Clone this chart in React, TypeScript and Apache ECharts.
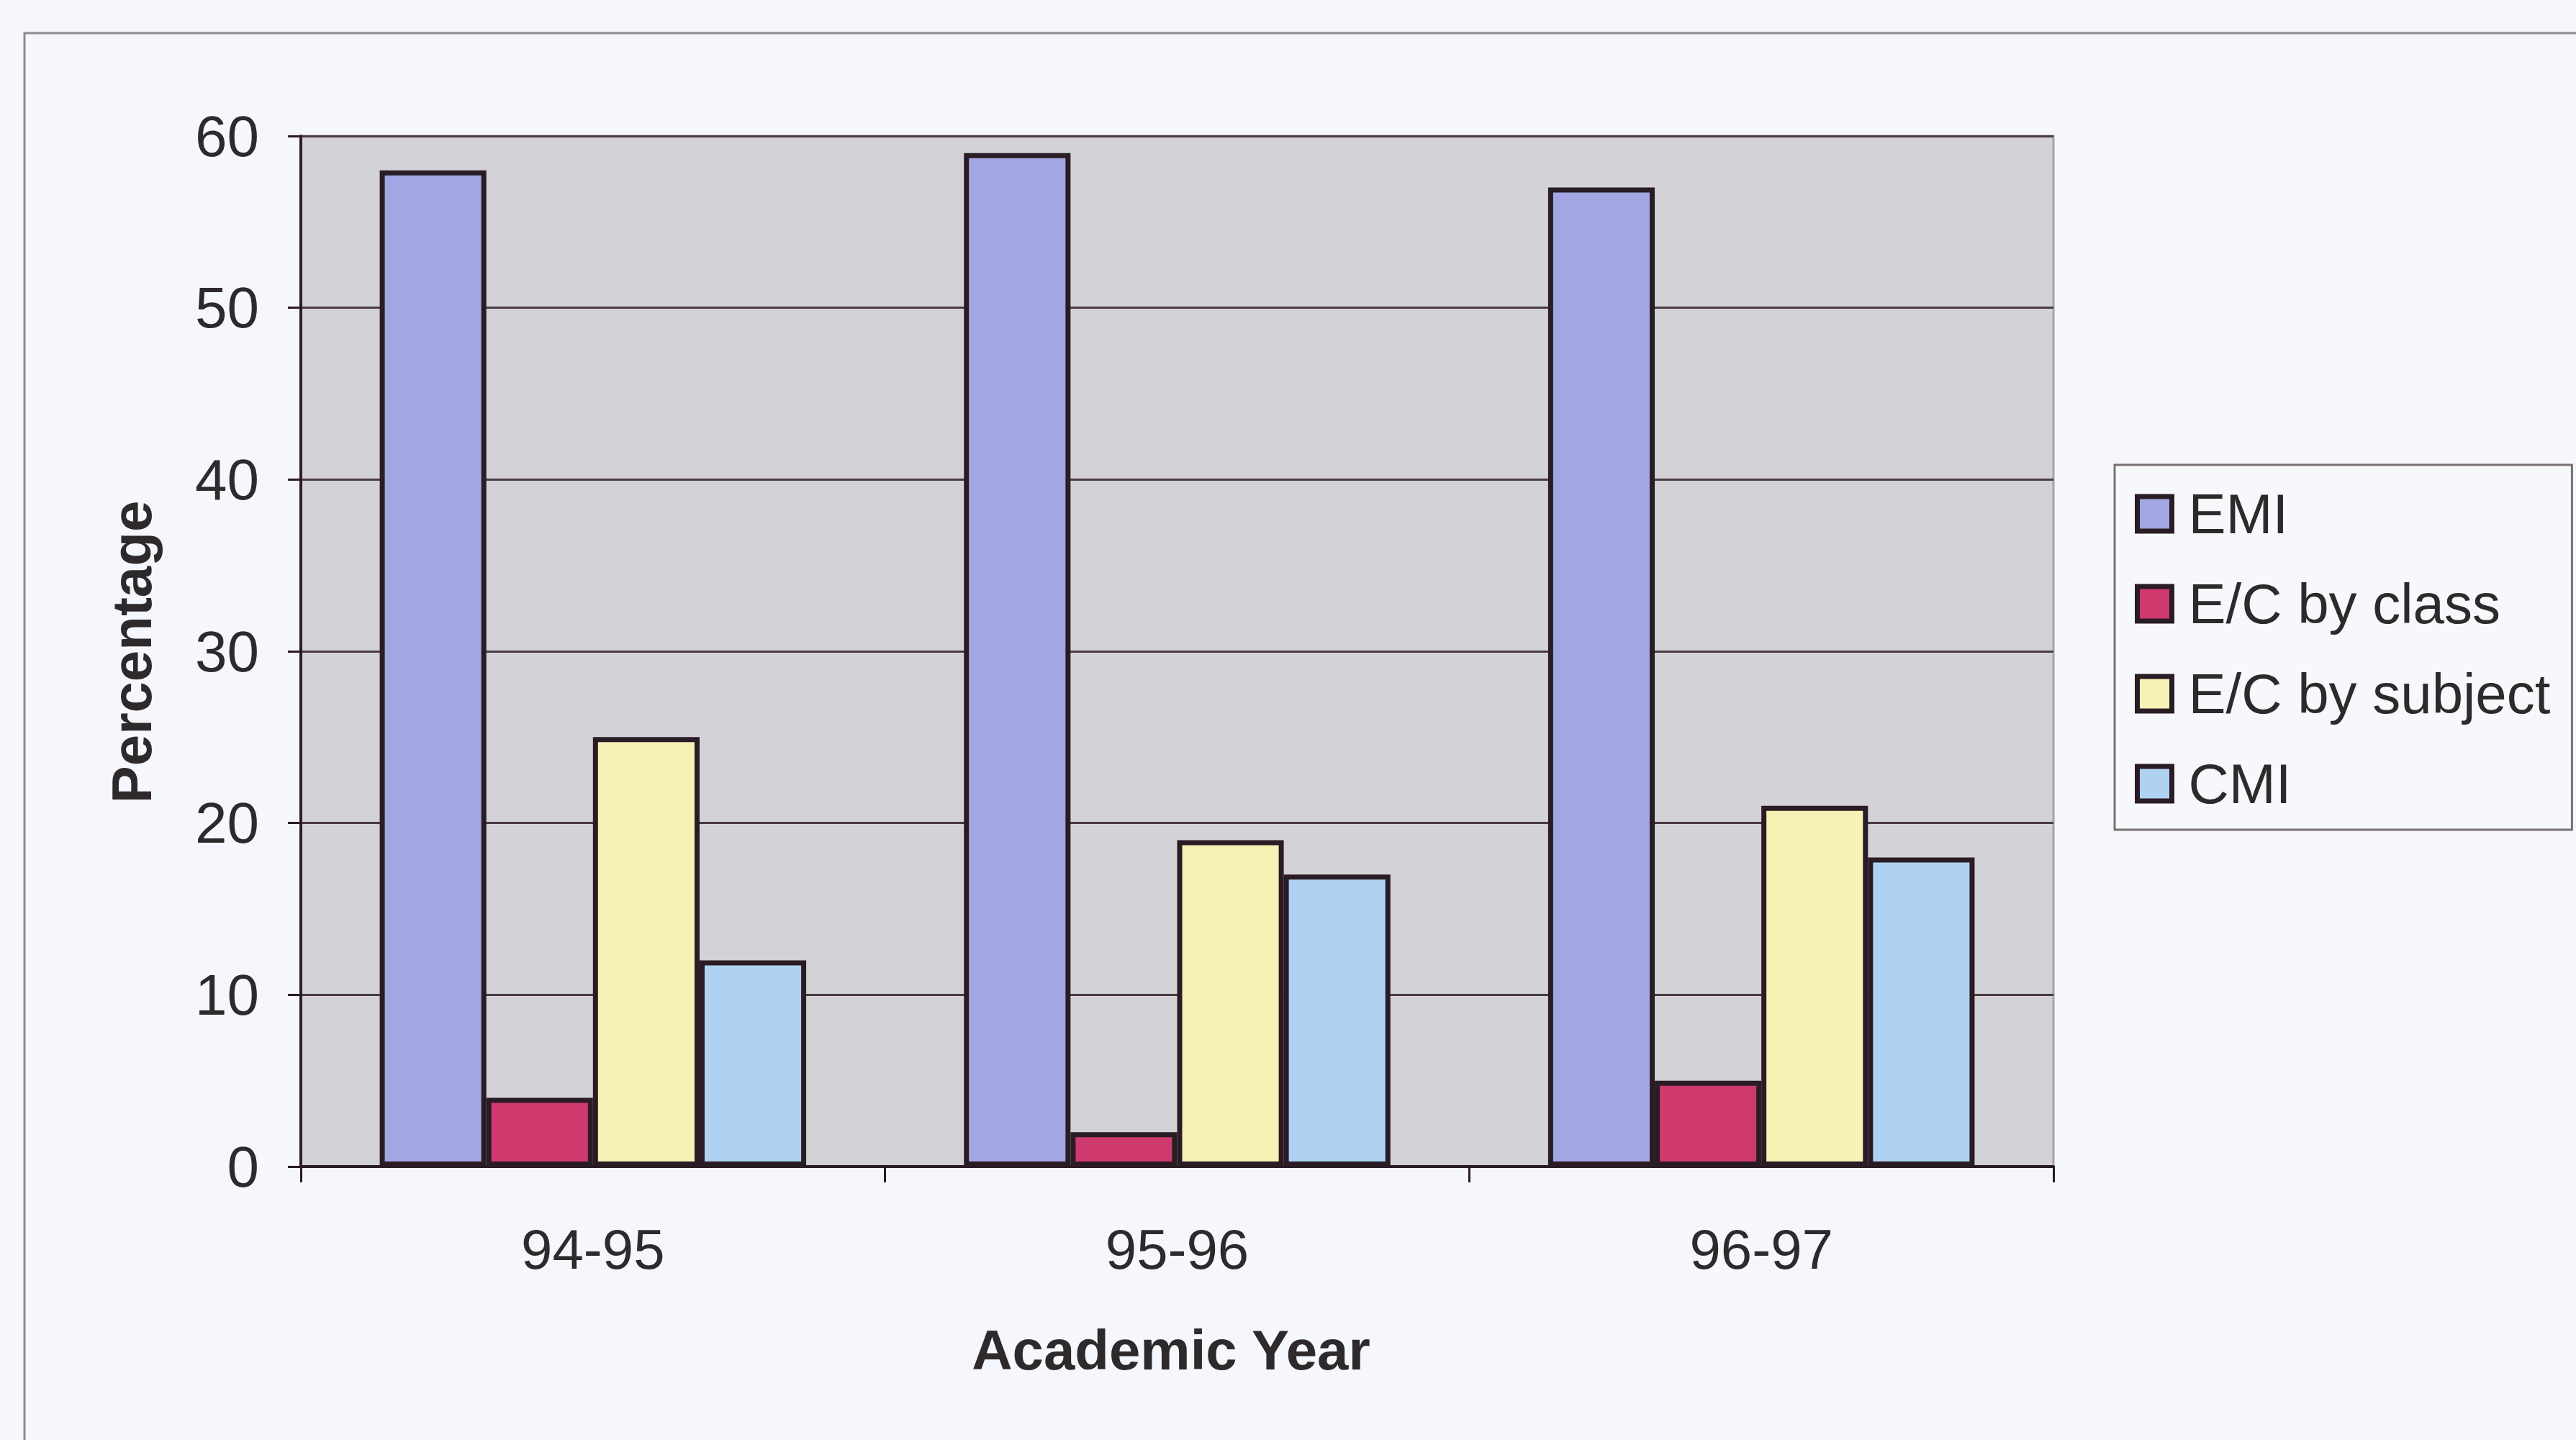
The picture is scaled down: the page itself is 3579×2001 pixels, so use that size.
import React, { useEffect, useRef } from "react";
import * as echarts from "echarts";

const categories = ["94-95", "95-96", "96-97"];
const seriesNames = ["EMI", "E/C by class", "E/C by subject", "CMI"];
const emi = [58, 59, 57];
const ecByClass = [4, 2, 5];
const ecBySubject = [25, 19, 21];
const cmi = [12, 17, 18];
const seriesColors = ["#a2a6e2", "#cf3a6e", "#f6f2b6", "#b0d2f2"];
const yTicks = [0, 10, 20, 30, 40, 50, 60];

const FONT = "'Liberation Sans', Arial, sans-serif";
const DARK = "#2a1c24";

export default function App() {
  const ref = useRef<HTMLDivElement>(null);
  useEffect(() => {
    if (!ref.current) return;
    const chart = echarts.init(ref.current, null, { renderer: "svg" });
    const values = [emi, ecByClass, ecBySubject, cmi];
    chart.setOption({
      animation: false,
      backgroundColor: "#f5f7fc",
      textStyle: { fontFamily: FONT },
      grid: {
        left: 418,
        top: 189,
        width: 2435,
        height: 1432,
        show: true,
        backgroundColor: "#d3d3d7",
        borderColor: "#a4a4a8",
        borderWidth: 3,
      },
      legend: {
        orient: "vertical",
        left: 2938,
        top: 646,
        data: seriesNames,
        icon: "rect",
        itemWidth: 48,
        itemHeight: 48,
        itemGap: 45,
        padding: [28, 30, 24, 28],
        backgroundColor: "#f7f8fc",
        borderColor: "#7a7070",
        borderWidth: 3,
        borderRadius: 0,
        itemStyle: { borderColor: DARK, borderWidth: 7 },
        textStyle: {
          fontFamily: FONT,
          fontSize: 78,
          color: "#2e2a2c",
          lineHeight: 80,
          padding: [0, 0, 0, 18],
        },
      },
      xAxis: {
        type: "category",
        data: categories,
        axisLine: { show: true, lineStyle: { color: DARK, width: 4 } },
        axisTick: { show: true, length: 22, lineStyle: { color: DARK, width: 3 } },
        axisLabel: {
          fontFamily: FONT,
          fontSize: 78,
          color: "#2e2a2c",
          margin: 76,
        },
        splitLine: { show: false },
      },
      yAxis: {
        type: "value",
        min: yTicks[0],
        max: yTicks[yTicks.length - 1],
        interval: 10,
        axisLine: { show: true, lineStyle: { color: DARK, width: 4 } },
        axisTick: { show: true, length: 18, lineStyle: { color: DARK, width: 3 } },
        axisLabel: {
          fontFamily: FONT,
          fontSize: 80,
          color: "#2e2a2c",
          margin: 58,
        },
        splitLine: { show: true, lineStyle: { color: "#4a3a3e", width: 3 } },
      },
      series: seriesNames.map((name, i) => ({
        name,
        type: "bar",
        data: values[i],
        barGap: "0%",
        barCategoryGap: "27%",
        itemStyle: {
          color: seriesColors[i],
          borderColor: DARK,
          borderWidth: 7,
        },
      })),
      graphic: [
        {
          type: "rect",
          shape: { x: 34, y: 46, width: 3700, height: 2100 },
          style: { fill: "none", stroke: "#8c8a90", lineWidth: 3 },
          silent: true,
          z: -1,
        },
        {
          type: "text",
          x: 183,
          y: 906,
          rotation: Math.PI / 2,
          style: {
            text: "Percentage",
            fontFamily: FONT,
            fontSize: 78,
            fontWeight: "bold",
            fill: "#2e2a2c",
            align: "center",
            verticalAlign: "middle",
          },
        },
        {
          type: "text",
          x: 1627,
          y: 1876,
          style: {
            text: "Academic Year",
            fontFamily: FONT,
            fontSize: 78,
            fontWeight: "bold",
            fill: "#2e2a2c",
            align: "center",
            verticalAlign: "middle",
          },
        },
      ],
    });
    return () => chart.dispose();
  }, []);
  return (
    <div
      ref={ref}
      style={{ position: "fixed", left: 0, top: 0, width: 3579, height: 2001 }}
    />
  );
}
